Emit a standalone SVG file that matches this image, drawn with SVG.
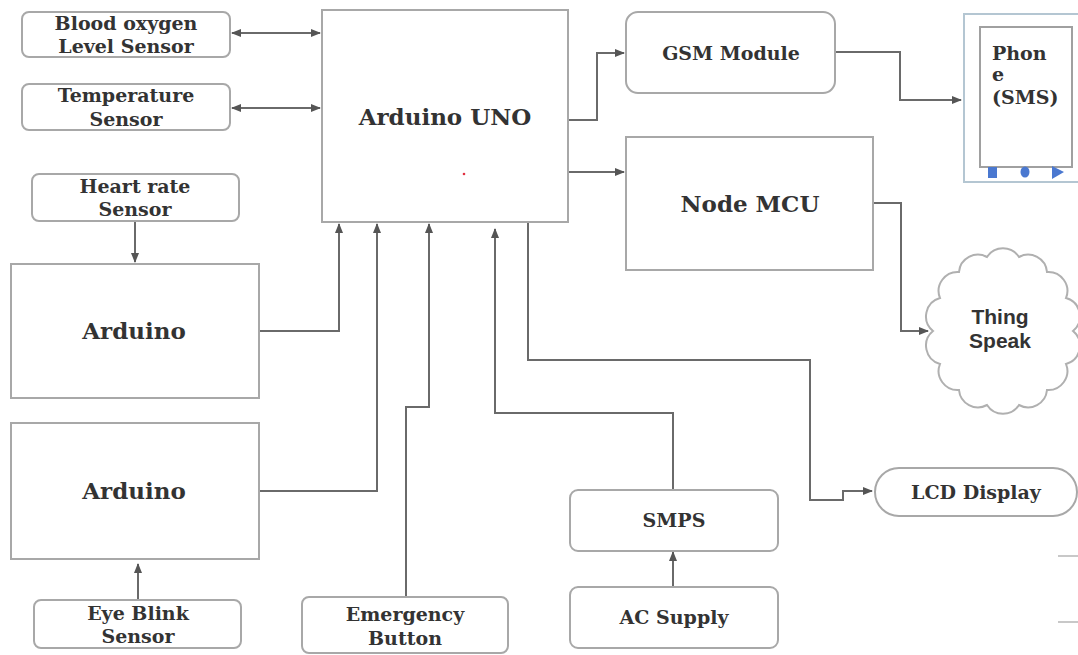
<svg xmlns="http://www.w3.org/2000/svg" width="1078" height="655" viewBox="0 0 1078 655">
<style>
.box{fill:#fff;stroke:#a8a8a8;stroke-width:2}
.t{font-family:"DejaVu Serif","Liberation Serif",serif;font-weight:bold;fill:#333;text-anchor:middle}
.s{font-size:19px}
.m{font-size:23px}
.c{fill:none;stroke:#6a6a6a;stroke-width:2}
.ts{font-family:"Liberation Sans",Arial,sans-serif;font-weight:bold;font-size:21px;fill:#333;text-anchor:middle}
</style>
<defs>
<marker id="ah" viewBox="0 0 10 10" refX="9" refY="5" markerWidth="5" markerHeight="5" orient="auto-start-reverse" markerUnits="strokeWidth">
<path d="M0,1 L10,5 L0,9 Z" fill="#555"/>
</marker>
</defs>
<rect width="1078" height="655" fill="#fff"/>

<g id="connectors">
<path class="c" d="M232,33 H320" marker-start="url(#ah)" marker-end="url(#ah)"/>
<path class="c" d="M232,108 H320" marker-start="url(#ah)" marker-end="url(#ah)"/>
<path class="c" d="M135,221 V262" marker-end="url(#ah)"/>
<path class="c" d="M138,600 V564" marker-end="url(#ah)"/>
<path class="c" d="M259,331 H339 V224" marker-end="url(#ah)"/>
<path class="c" d="M259,491 H377 V224" marker-end="url(#ah)"/>
<path class="c" d="M406,598 V407 H429 V224" marker-end="url(#ah)"/>
<path class="c" d="M673,490 V413 H495 V229" marker-end="url(#ah)"/>
<path class="c" d="M673,587 V552" marker-end="url(#ah)"/>
<path class="c" d="M528,222 V360 H810 V500 H843 V491 H872" marker-end="url(#ah)"/>
<path class="c" d="M569,120 H597 V53 H624" marker-end="url(#ah)"/>
<path class="c" d="M569,172 H624" marker-end="url(#ah)"/>
<path class="c" d="M835,52 H900 V100 H961" marker-end="url(#ah)"/>
<path class="c" d="M873,203 H901 V331 H928" marker-end="url(#ah)"/>
</g>

<g id="blood-oxygen">
<rect class="box" x="22" y="12" width="208" height="45" rx="7"/>
<text class="t s" x="126" y="30">Blood oxygen</text>
<text class="t s" x="126" y="53">Level Sensor</text>
</g>
<g id="temperature">
<rect class="box" x="22" y="84" width="208" height="46" rx="7"/>
<text class="t s" x="126" y="102">Temperature</text>
<text class="t s" x="126" y="126">Sensor</text>
</g>
<g id="heart-rate">
<rect class="box" x="32" y="174" width="207" height="47" rx="7"/>
<text class="t s" x="135" y="193">Heart rate</text>
<text class="t s" x="135" y="216">Sensor</text>
</g>
<g id="arduino1">
<rect class="box" x="11" y="264" width="248" height="134"/>
<text class="t m" x="134" y="339">Arduino</text>
</g>
<g id="arduino2">
<rect class="box" x="11" y="423" width="248" height="136"/>
<text class="t m" x="134" y="499">Arduino</text>
</g>
<g id="eye-blink">
<rect class="box" x="34" y="600" width="207" height="48" rx="7"/>
<text class="t s" x="138" y="620">Eye Blink</text>
<text class="t s" x="138" y="643">Sensor</text>
</g>
<g id="emergency">
<rect class="box" x="302" y="597" width="206" height="56" rx="7"/>
<text class="t s" x="405" y="621">Emergency</text>
<text class="t s" x="405" y="645">Button</text>
</g>
<g id="arduino-uno">
<rect class="box" x="322" y="10" width="246" height="212"/>
<text class="t m" x="445" y="125">Arduino UNO</text>
<circle cx="464" cy="174" r="1.3" fill="#e03040"/>
</g>
<g id="gsm">
<rect class="box" x="626" y="12" width="209" height="81" rx="12"/>
<text class="t s" x="731" y="60">GSM Module</text>
</g>
<g id="node-mcu">
<rect class="box" x="626" y="137" width="247" height="133"/>
<text class="t m" x="750" y="212">Node MCU</text>
</g>
<g id="phone">
<rect x="964" y="14" width="120" height="168" fill="#fff" stroke="#b4c6d2" stroke-width="2"/>
<rect x="980" y="27" width="92" height="140" fill="#fff" stroke="#a0a0a0" stroke-width="2"/>
<text class="t s" x="992" y="60" style="text-anchor:start">Phon</text>
<text class="t s" x="992" y="81" style="text-anchor:start">e</text>
<text class="t s" x="992" y="104" style="text-anchor:start">(SMS)</text>
<rect x="988" y="167" width="9" height="11" fill="#4a78d0"/>
<ellipse cx="1025" cy="172" rx="4.5" ry="5.5" fill="#4a78d0"/>
<path d="M1052,166 L1064,172 L1052,179 Z" fill="#4a78d0"/>
</g>
<g id="thingspeak">
<path d="M1073,331 A19,19 0 0 1 1066,364 A19,19 0 0 1 1047,390 A19,19 0 0 1 1019,405 A19,19 0 0 1 987,405 A19,19 0 0 1 959,390 A19,19 0 0 1 940,364 A19,19 0 0 1 933,331 A19,19 0 0 1 940,298 A19,19 0 0 1 959,272 A19,19 0 0 1 987,257 A19,19 0 0 1 1019,257 A19,19 0 0 1 1047,272 A19,19 0 0 1 1066,298 A19,19 0 0 1 1073,331 Z" fill="#fff" stroke="#b0b0b0" stroke-width="2"/>
<text class="ts" x="1000" y="324">Thing</text>
<text class="ts" x="1000" y="348">Speak</text>
</g>
<g id="lcd">
<rect class="box" x="875" y="468" width="202" height="48" rx="24"/>
<text class="t s" x="976" y="499">LCD Display</text>
</g>
<g id="smps">
<rect class="box" x="570" y="490" width="208" height="61" rx="8"/>
<text class="t s" x="674" y="527">SMPS</text>
</g>
<g id="ac-supply">
<rect class="box" x="570" y="587" width="208" height="61" rx="8"/>
<text class="t s" x="674" y="624">AC Supply</text>
</g>
<g id="fragments">
<path d="M1058,556 H1078 M1058,622 H1078" stroke="#c8c8c8" stroke-width="2"/>
</g>
</svg>
